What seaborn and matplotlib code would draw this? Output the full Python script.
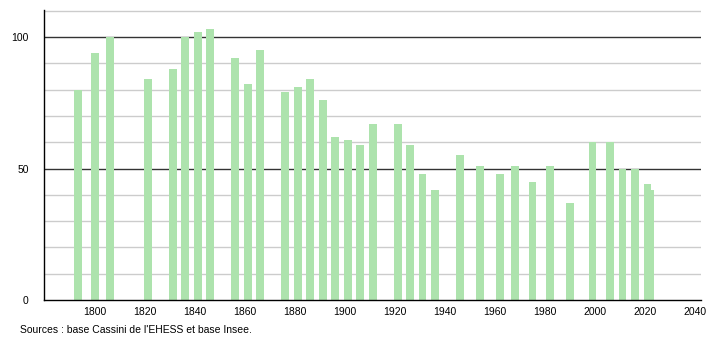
import matplotlib
matplotlib.use("Agg")
import matplotlib.pyplot as plt
import seaborn as sns
import numpy as np
import pandas as pd

years = [1793, 1800, 1806, 1821, 1831, 1836, 1841, 1846, 1856, 1861, 1866,
         1876, 1881, 1886, 1891, 1896, 1901, 1906, 1911, 1921, 1926, 1931,
         1936, 1946, 1954, 1962, 1968, 1975, 1982, 1990, 1999, 2006, 2011,
         2016, 2021, 2022]
population = [80, 94, 100, 84, 88, 100, 102, 103, 92, 82, 95,
              79, 81, 84, 76, 62, 61, 59, 67, 67, 59, 48,
              42, 55, 51, 48, 51, 45, 51, 37, 60, 60, 50,
              50, 44, 42]
x_ticks = list(range(1800, 2041, 20))
y_major = [0, 50, 100]
y_minor = list(range(10, 111, 10))
source_text = "Sources : base Cassini de l'EHESS et base Insee."

sns.set_style("white")
plt.rcParams["font.family"] = ["Liberation Sans", "DejaVu Sans"]
plt.rcParams["text.color"] = "black"
plt.rcParams["xtick.color"] = "black"
plt.rcParams["ytick.color"] = "black"

df = pd.DataFrame({"year": years, "pop": population})

fig = plt.figure(figsize=(7.1, 3.4), dpi=100)
ax = fig.add_axes([44 / 710, 40 / 340, (701 - 44) / 710, 290 / 340])

bar_years = 3.2
min_gap = np.min(np.diff(np.unique(years)))
sns.barplot(data=df, x="year", y="pop", native_scale=True,
            width=bar_years / min_gap, color="#ade3ad", saturation=1,
            errorbar=None, linewidth=0, ax=ax)

ax.set_xlim(1779.6, 2042.4)
ax.set_ylim(0, 110.3)
ax.set_xticks(x_ticks)
ax.set_xticklabels([str(t) for t in x_ticks], fontsize=7.5, color="black")
ax.set_yticks(y_major)
ax.set_yticklabels([str(t) for t in y_major], fontsize=7.5, color="black")
ax.set_yticks(y_minor, minor=True)
ax.set_xlabel("")
ax.set_ylabel("")

ax.set_axisbelow(True)
for v in y_minor:
    if v not in y_major:
        ax.axhline(v, color="#cccccc", linewidth=1, zorder=0)
for v in y_major[1:]:
    ax.axhline(v, color="#333333", linewidth=1, zorder=0)

ax.tick_params(axis="x", length=0, pad=5)
ax.tick_params(axis="y", which="major", length=5, width=1, color="black", pad=6)
ax.tick_params(axis="y", which="minor", length=2, width=1, color="black")

for s in ["top", "right"]:
    ax.spines[s].set_visible(False)
for s in ["left", "bottom"]:
    ax.spines[s].set_color("black")
    ax.spines[s].set_linewidth(1)

fig.text(20 / 710, 1 - 330 / 340, source_text, fontsize=7.5, va="center",
         ha="left", color="black")

fig.savefig("out.png", dpi=100)
